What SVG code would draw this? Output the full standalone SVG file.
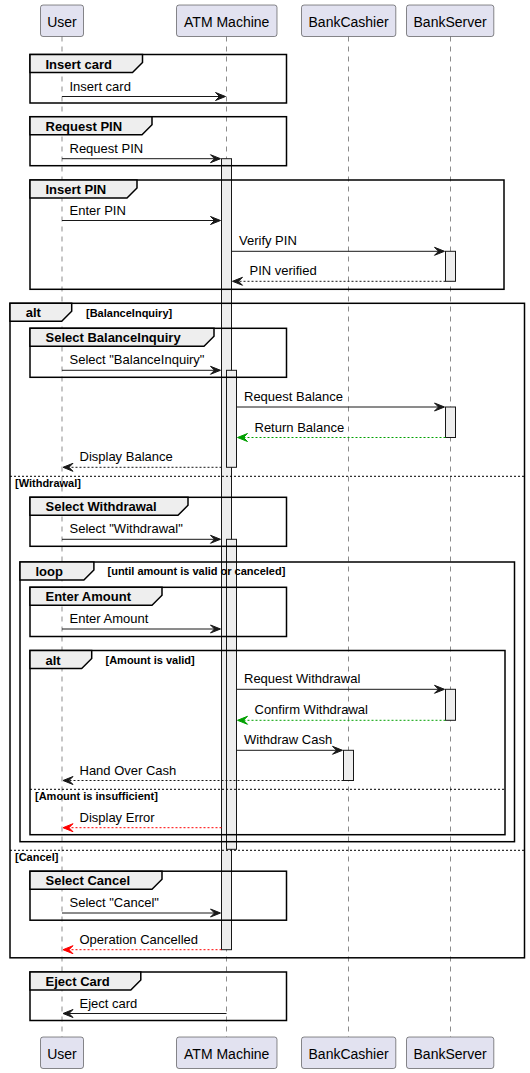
<svg xmlns="http://www.w3.org/2000/svg" width="530" height="1073" viewBox="0 0 530 1073">
<style>
.pbox{fill:#E2E2F0;stroke:#181818;stroke-width:0.5}
.ptxt{font-family:"Liberation Sans",Arial,sans-serif;font-size:14px;fill:#000;text-anchor:middle}
.life{stroke:#181818;stroke-width:0.5;stroke-dasharray:5,5;fill:none}
.frame{fill:none;stroke:#000;stroke-width:1.5}
.tab{fill:#EEEEEE;stroke:#000;stroke-width:1.5}
.ttl{font-family:"Liberation Sans",Arial,sans-serif;font-size:13px;font-weight:bold;fill:#000}
.grd{font-family:"Liberation Sans",Arial,sans-serif;font-size:11px;font-weight:bold;fill:#000}
.sep{stroke:#000;stroke-width:1;stroke-dasharray:2,2;fill:none}
.act{fill:#EEEEEE;stroke:#181818;stroke-width:1}
.msg{stroke:#181818;stroke-width:1;fill:none}
.dash{stroke-dasharray:2,2}
.head{fill:#181818;stroke:#181818;stroke-width:1}
.g{stroke:#00A000}
.gh{fill:#00A000;stroke:#00A000}
.r{stroke:#FF0000}
.rh{fill:#FF0000;stroke:#FF0000}
.lbl{font-family:"Liberation Sans",Arial,sans-serif;font-size:13px;fill:#000}
</style>
<g id="lifelines">
<line class="life" x1="62" y1="36.5" x2="62" y2="1037"/>
<line class="life" x1="226.5" y1="36.5" x2="226.5" y2="1037"/>
<line class="life" x1="348.5" y1="36.5" x2="348.5" y2="1037"/>
<line class="life" x1="450.5" y1="36.5" x2="450.5" y2="1037"/>
</g>
<g id="p-user">
<rect class="pbox" x="40.5" y="5" width="43" height="31.5" rx="2.5"/>
<text class="ptxt" x="62" y="26.5">User</text>
<rect class="pbox" x="40.5" y="1037" width="43" height="31.5" rx="2.5"/>
<text class="ptxt" x="62" y="1058.5">User</text>
</g>
<g id="p-atm">
<rect class="pbox" x="176.5" y="5" width="100.5" height="31.5" rx="2.5"/>
<text class="ptxt" x="226.7" y="26.5">ATM Machine</text>
<rect class="pbox" x="176.5" y="1037" width="100.5" height="31.5" rx="2.5"/>
<text class="ptxt" x="226.7" y="1058.5">ATM Machine</text>
</g>
<g id="p-cashier">
<rect class="pbox" x="301.5" y="5" width="94.3" height="31.5" rx="2.5"/>
<text class="ptxt" x="348.6" y="26.5">BankCashier</text>
<rect class="pbox" x="301.5" y="1037" width="94.3" height="31.5" rx="2.5"/>
<text class="ptxt" x="348.6" y="1058.5">BankCashier</text>
</g>
<g id="p-server">
<rect class="pbox" x="406.5" y="5" width="87.3" height="31.5" rx="2.5"/>
<text class="ptxt" x="450.1" y="26.5">BankServer</text>
<rect class="pbox" x="406.5" y="1037" width="87.3" height="31.5" rx="2.5"/>
<text class="ptxt" x="450.1" y="1058.5">BankServer</text>
</g>
<g id="activations">
<rect class="act" x="221.5" y="158.7" width="10" height="791"/>
<rect class="act" x="226.5" y="370.3" width="10" height="97"/>
<rect class="act" x="226.5" y="539.3" width="10" height="310"/>
<rect class="act" x="445.5" y="251.3" width="10" height="30"/>
<rect class="act" x="445.5" y="407" width="10" height="30.5"/>
<rect class="act" x="445.5" y="689.3" width="10" height="31"/>
<rect class="act" x="343.5" y="750.3" width="10" height="30.2"/>
</g>
<g id="frames">
<g id="grp-insert-card">
<rect class="frame" x="30" y="54.5" width="256.5" height="48.5"/>
<polygon class="tab" points="30,54.5 142.5,54.5 142.5,62.5 132.5,72.5 30,72.5"/>
<text class="ttl" x="45.5" y="68.5">Insert card</text>
</g>
<g id="grp-request-pin">
<rect class="frame" x="30" y="116.7" width="256.5" height="49"/>
<polygon class="tab" points="30,116.7 152,116.7 152,124.7 142,134.7 30,134.7"/>
<text class="ttl" x="45.5" y="130.7">Request PIN</text>
</g>
<g id="grp-insert-pin">
<rect class="frame" x="30" y="180" width="474" height="109.3"/>
<polygon class="tab" points="30,180 137,180 137,188 127,198 30,198"/>
<text class="ttl" x="45.5" y="194">Insert PIN</text>
</g>
<g id="alt-outer">
<rect class="frame" x="10" y="303.3" width="514.5" height="654.5"/>
<polygon class="tab" points="10,303.3 71.7,303.3 71.7,311.3 61.7,321.3 10,321.3"/>
<text class="ttl" x="25.7" y="317.3">alt</text>
<text class="grd" x="86" y="316.8">[BalanceInquiry]</text>
<line class="sep" x1="10" y1="476.3" x2="524.5" y2="476.3"/>
<text class="grd" x="15" y="487">[Withdrawal]</text>
<line class="sep" x1="10" y1="850.3" x2="524.5" y2="850.3"/>
<text class="grd" x="15" y="861">[Cancel]</text>
</g>
<g id="grp-select-balance">
<rect class="frame" x="30" y="328.3" width="256.5" height="49"/>
<polygon class="tab" points="30,328.3 214,328.3 214,336.3 204,346.3 30,346.3"/>
<text class="ttl" x="45.5" y="342.3">Select BalanceInquiry</text>
</g>
<g id="grp-select-withdrawal">
<rect class="frame" x="30" y="497.3" width="256.5" height="49"/>
<polygon class="tab" points="30,497.3 188,497.3 188,505.3 178,515.3 30,515.3"/>
<text class="ttl" x="45.5" y="511.3">Select Withdrawal</text>
</g>
<g id="loop">
<rect class="frame" x="20" y="562" width="494.5" height="279.7"/>
<polygon class="tab" points="20,562 93.9,562 93.9,570 83.9,580 20,580"/>
<text class="ttl" x="35.5" y="576">loop</text>
<text class="grd" x="107.5" y="575">[until amount is valid or canceled]</text>
</g>
<g id="grp-enter-amount">
<rect class="frame" x="30" y="587.3" width="256.5" height="49.2"/>
<polygon class="tab" points="30,587.3 162,587.3 162,595.3 152,605.3 30,605.3"/>
<text class="ttl" x="45.5" y="601.3">Enter Amount</text>
</g>
<g id="alt-inner">
<rect class="frame" x="30" y="650.5" width="475" height="184.2"/>
<polygon class="tab" points="30,650.5 91.7,650.5 91.7,658.5 81.7,668.5 30,668.5"/>
<text class="ttl" x="45.5" y="664.5">alt</text>
<text class="grd" x="105.5" y="664">[Amount is valid]</text>
<line class="sep" x1="30" y1="789.3" x2="505" y2="789.3"/>
<text class="grd" x="35" y="800">[Amount is insufficient]</text>
</g>
<g id="grp-select-cancel">
<rect class="frame" x="30" y="871.2" width="256.5" height="49"/>
<polygon class="tab" points="30,871.2 162,871.2 162,879.2 152,889.2 30,889.2"/>
<text class="ttl" x="45.5" y="885.2">Select Cancel</text>
</g>
<g id="grp-eject-card">
<rect class="frame" x="30" y="972" width="256.5" height="48.5"/>
<polygon class="tab" points="30,972 140.8,972 140.8,980 130.8,990 30,990"/>
<text class="ttl" x="45.5" y="986">Eject Card</text>
</g>
</g>
<g id="connectors">
<line class="msg" x1="62" y1="96.5" x2="224.5" y2="96.5"/>
<polygon class="head" points="215.5,92.5 225.5,96.5 215.5,100.5 219.5,96.5"/>
<text class="lbl" x="69.5" y="90.5">Insert card</text>

<line class="msg" x1="62" y1="158.7" x2="219.5" y2="158.7"/>
<polygon class="head" points="210.5,154.7 220.5,158.7 210.5,162.7 214.5,158.7"/>
<text class="lbl" x="69.5" y="152.7">Request PIN</text>

<line class="msg" x1="62" y1="220.5" x2="219.5" y2="220.5"/>
<polygon class="head" points="210.5,216.5 220.5,220.5 210.5,224.5 214.5,220.5"/>
<text class="lbl" x="69.5" y="214.5">Enter PIN</text>

<line class="msg" x1="231.5" y1="251.3" x2="443.5" y2="251.3"/>
<polygon class="head" points="434.5,247.3 444.5,251.3 434.5,255.3 438.5,251.3"/>
<text class="lbl" x="239" y="245.3">Verify PIN</text>

<line class="msg dash" x1="445.5" y1="281.3" x2="233.5" y2="281.3"/>
<polygon class="head" points="242.5,277.3 232.5,281.3 242.5,285.3 238.5,281.3"/>
<text class="lbl" x="249.5" y="275.3">PIN verified</text>

<line class="msg" x1="62" y1="370.3" x2="219.5" y2="370.3"/>
<polygon class="head" points="210.5,366.3 220.5,370.3 210.5,374.3 214.5,370.3"/>
<text class="lbl" x="69.5" y="364.3">Select "BalanceInquiry"</text>

<line class="msg" x1="236.5" y1="407" x2="443.5" y2="407"/>
<polygon class="head" points="434.5,403 444.5,407 434.5,411 438.5,407"/>
<text class="lbl" x="244" y="401">Request Balance</text>

<line class="msg dash g" x1="445.5" y1="437.5" x2="238.5" y2="437.5"/>
<polygon class="head gh" points="247.5,433.5 237.5,437.5 247.5,441.5 243.5,437.5"/>
<text class="lbl" x="254.5" y="431.5">Return Balance</text>

<line class="msg dash" x1="221.5" y1="467.3" x2="64" y2="467.3"/>
<polygon class="head" points="73,463.3 63,467.3 73,471.3 69,467.3"/>
<text class="lbl" x="79.5" y="461.3">Display Balance</text>

<line class="msg" x1="62" y1="539.3" x2="219.5" y2="539.3"/>
<polygon class="head" points="210.5,535.3 220.5,539.3 210.5,543.3 214.5,539.3"/>
<text class="lbl" x="69.5" y="533.3">Select "Withdrawal"</text>

<line class="msg" x1="62" y1="629" x2="219.5" y2="629"/>
<polygon class="head" points="210.5,625 220.5,629 210.5,633 214.5,629"/>
<text class="lbl" x="69.5" y="623">Enter Amount</text>

<line class="msg" x1="236.5" y1="689.3" x2="443.5" y2="689.3"/>
<polygon class="head" points="434.5,685.3 444.5,689.3 434.5,693.3 438.5,689.3"/>
<text class="lbl" x="244" y="683.3">Request Withdrawal</text>

<line class="msg dash g" x1="445.5" y1="720.3" x2="238.5" y2="720.3"/>
<polygon class="head gh" points="247.5,716.3 237.5,720.3 247.5,724.3 243.5,720.3"/>
<text class="lbl" x="254.5" y="714.3">Confirm Withdrawal</text>

<line class="msg" x1="236.5" y1="750.3" x2="341.5" y2="750.3"/>
<polygon class="head" points="332.5,746.3 342.5,750.3 332.5,754.3 336.5,750.3"/>
<text class="lbl" x="244" y="744.3">Withdraw Cash</text>

<line class="msg dash" x1="343.5" y1="780.5" x2="64" y2="780.5"/>
<polygon class="head" points="73,776.5 63,780.5 73,784.5 69,780.5"/>
<text class="lbl" x="79.5" y="774.5">Hand Over Cash</text>

<line class="msg dash r" x1="221.5" y1="827.7" x2="64" y2="827.7"/>
<polygon class="head rh" points="73,823.7 63,827.7 73,831.7 69,827.7"/>
<text class="lbl" x="79.5" y="821.7">Display Error</text>

<line class="msg" x1="62" y1="913" x2="219.5" y2="913"/>
<polygon class="head" points="210.5,909 220.5,913 210.5,917 214.5,913"/>
<text class="lbl" x="69.5" y="907">Select "Cancel"</text>

<line class="msg dash r" x1="221.5" y1="949.7" x2="64" y2="949.7"/>
<polygon class="head rh" points="73,945.7 63,949.7 73,953.7 69,949.7"/>
<text class="lbl" x="79.5" y="943.7">Operation Cancelled</text>

<line class="msg" x1="226.5" y1="1013.5" x2="64" y2="1013.5"/>
<polygon class="head" points="73,1009.5 63,1013.5 73,1017.5 69,1013.5"/>
<text class="lbl" x="79.5" y="1007.5">Eject card</text>
</g>
</svg>
